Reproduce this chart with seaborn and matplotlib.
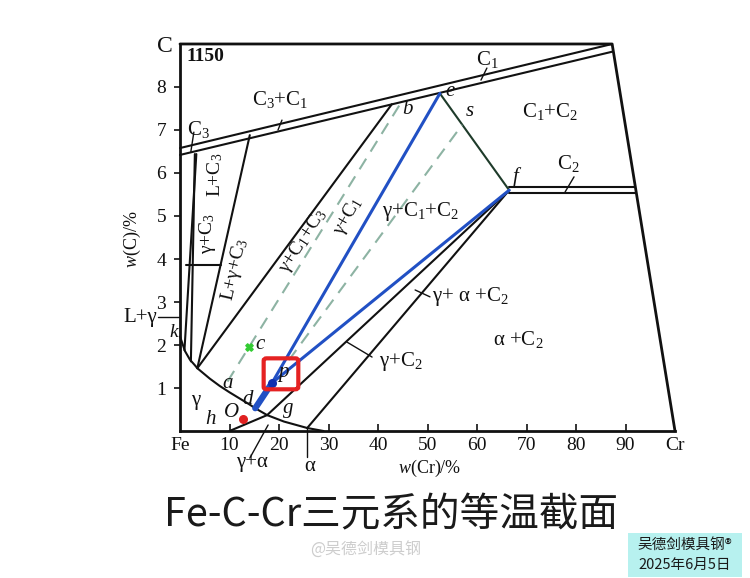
import matplotlib
matplotlib.use('Agg')
import matplotlib.pyplot as plt
import seaborn as sns
from matplotlib.patches import FancyBboxPatch, Rectangle

sns.set_theme(style='white')
plt.rcParams['font.family'] = ['Liberation Serif', 'DejaVu Serif']
plt.rcParams['mathtext.fontset'] = 'custom'
plt.rcParams['mathtext.rm'] = 'Liberation Serif'
plt.rcParams['mathtext.it'] = 'Liberation Serif:italic'
plt.rcParams['mathtext.bf'] = 'Liberation Serif:bold'

# ---------------- data (w(Cr) %, w(C) %) ----------------
x_ticks = [0, 10, 20, 30, 40, 50, 60, 70, 80, 90, 100]
x_tick_labels = ['Fe', '10', '20', '30', '40', '50', '60', '70', '80', '90', 'Cr']
y_ticks = [1, 2, 3, 4, 5, 6, 7, 8]
y_tick_labels = ['1', '2', '3', '4', '5', '6', '7', '8']

frame_cr = [0, 87.3, 100]
frame_c = [9.0, 9.0, 0.0]

c1_upper_cr = [0, 87.3]
c1_upper_c = [6.58, 9.0]
c1_lower_cr = [0, 87.3]
c1_lower_c = [6.42, 8.82]

c2_upper_cr = [66.5, 92.0]
c2_upper_c = [5.67, 5.67]
c2_lower_cr = [66.5, 92.2]
c2_lower_c = [5.53, 5.53]

gamma_cr = [0, 1, 2, 3, 3.5, 6, 8, 10, 12, 14, 15.2, 17.6, 21, 25.7, 29]
gamma_c = [2.2, 1.86, 1.66, 1.53, 1.46, 1.22, 1.05, 0.9, 0.76, 0.62, 0.53, 0.37, 0.22, 0.07, 0.0]

line_a_cr = [3.3, 0.9]
line_a_c = [6.44, 1.88]
line_b_cr = [3.0, 2.2]
line_b_c = [6.44, 1.62]
line_l3_cr = [14.1, 3.5]
line_l3_c = [6.88, 1.46]
line_h39_cr = [1.3, 8.3]
line_h39_c = [3.86, 3.86]
line_jb_cr = [3.5, 42.8]
line_jb_c = [1.46, 7.6]

pt_e = (52.5, 7.85)
pt_f = (66.5, 5.6)
pt_p = (18.6, 1.12)
pt_d = (15.2, 0.53)
pt_g = (17.6, 0.37)
pt_alpha = (25.7, 0.07)

ga_line_cr = [10.0, 17.6]
ga_line_c = [0.0, 0.37]

dash1_cr = [9.6, 45.0]
dash1_c = [1.15, 7.7]
dash2_cr = [22.0, 57.0]
dash2_c = [1.65, 7.12]

pt_c = (13.9, 1.95)
pt_red = (12.7, 0.28)

# ---------------- figure ----------------
fig = plt.figure(figsize=(7.5, 5.78), dpi=100)
fig.patch.set_facecolor('white')
ax = fig.add_axes([0.24, 0.2543, 0.66, 0.6696])
ax.set_facecolor('white')
ax.set_xlim(0, 100)
ax.set_ylim(0, 9)

K = '#111111'
BLUE = '#2150c4'
DASH = '#8db3a3'
LW = 1.5


def seg(xs, ys, color=K, lw=LW, **kw):
    sns.lineplot(x=xs, y=ys, ax=ax, sort=False, estimator=None, color=color,
                 lw=lw, clip_on=False, **kw)


for s in ['top', 'right']:
    ax.spines[s].set_visible(False)
for s in ['left', 'bottom']:
    ax.spines[s].set_linewidth(2.0)
    ax.spines[s].set_color(K)

seg(frame_cr, frame_c, lw=2.0)
seg(c1_upper_cr, c1_upper_c)
seg(c1_lower_cr, c1_lower_c)
seg(c2_upper_cr, c2_upper_c)
seg(c2_lower_cr, c2_lower_c)
seg(gamma_cr, gamma_c)
seg(line_a_cr, line_a_c)
seg(line_b_cr, line_b_c)
seg(line_l3_cr, line_l3_c)
seg(line_h39_cr, line_h39_c)
seg(line_jb_cr, line_jb_c)
seg(ga_line_cr, ga_line_c)
seg([pt_g[0], pt_f[0]], [pt_g[1], pt_f[1]])
seg([pt_alpha[0], pt_f[0]], [pt_alpha[1], pt_f[1]])
seg([pt_e[0], pt_f[0]], [pt_e[1], pt_f[1]], color='#1e3b2a')

seg(dash1_cr, dash1_c, color=DASH, lw=1.5, linestyle=(0, (6, 4)))
seg(dash2_cr, dash2_c, color=DASH, lw=1.5, linestyle=(0, (6, 4)))

seg([pt_p[0], pt_e[0]], [pt_p[1], pt_e[1]], color=BLUE, lw=2.2)
seg([pt_p[0], pt_f[0]], [pt_p[1], pt_f[1]], color=BLUE, lw=2.2)
seg([pt_d[0], pt_p[0]], [pt_d[1], pt_p[1]], color=BLUE, lw=4.5)

ax.scatter([pt_p[0]], [pt_p[1]], s=30, color='#1030b0', zorder=5)
ax.scatter([pt_c[0]], [pt_c[1]], s=28, color='#33cc33', marker='X', zorder=5)
ax.scatter([pt_red[0]], [pt_red[1]], s=30, color='#e02020', zorder=5)

# red highlight box around p
ax.add_patch(FancyBboxPatch((16.9, 0.97), 7.0, 0.72,
                            boxstyle='round,pad=0,rounding_size=0.6',
                            fill=False, ec='#e52222', lw=3.0, zorder=6,
                            mutation_aspect=0.09))

# leaders
seg([2.8, 2.2], [6.95, 6.5], lw=1.0)
seg([20.6, 19.8], [7.23, 7.0], lw=1.0)
seg([62.0, 60.8], [8.44, 8.16], lw=1.0)
seg([79.6, 77.8], [5.91, 5.56], lw=1.0)
seg([-4.4, 0.0], [2.65, 2.65], lw=1.0)
seg([47.5, 50.5], [3.28, 3.12], lw=1.0)
seg([33.7, 38.8], [2.07, 1.72], lw=1.0)
seg([14.1, 17.8], [-0.63, 0.14], lw=1.0)
seg([pt_alpha[0], pt_alpha[0]], [pt_alpha[1], -0.6], lw=1.0)

# ticks
ax.set_xticks(x_ticks)
ax.set_xticklabels(x_tick_labels)
ax.set_yticks(y_ticks)
ax.set_yticklabels(y_tick_labels)
ax.tick_params(axis='x', direction='in', length=5, width=1.2, colors=K,
               labelsize=14, pad=4, bottom=True)
ax.tick_params(axis='y', direction='out', length=4, width=1.2, colors=K,
               labelsize=14, pad=6, left=True)
for t in [ax.xaxis.get_major_ticks()[0], ax.xaxis.get_major_ticks()[-1]]:
    t.tick1line.set_visible(False)

TS = 15
def lab(x, y, s, **kw):
    kw.setdefault('fontsize', TS)
    kw.setdefault('ha', 'center')
    kw.setdefault('va', 'center')
    ax.text(x, y, s, color=K, clip_on=False, **kw)

lab(-3.0, 8.93, 'C', fontsize=17)
lab(1.2, 8.7, '1150', ha='left', fontsize=14, fontweight='bold')
lab(3.8, 7.02, 'C$_3$')
lab(20.2, 7.72, 'C$_3$+C$_1$')
lab(62.0, 8.63, 'C$_1$')
lab(74.7, 7.42, 'C$_1$+C$_2$')
lab(78.4, 6.23, 'C$_2$')
lab(48.7, 5.1, 'γ+C$_1$+C$_2$')
lab(34.0, 5.0, 'γ+C$_1$', rotation=60, fontsize=14)
lab(24.9, 4.42, 'γ+C$_1$+C$_3$', rotation=57, fontsize=14)
lab(11.2, 3.75, 'L+γ+C$_3$', rotation=77, fontsize=14)
lab(5.6, 4.6, 'γ+C$_3$', rotation=90, fontsize=14)
lab(7.2, 5.95, 'L+C$_3$', rotation=90, fontsize=14)
lab(-4.6, 2.65, 'L+γ', ha='right')
lab(-1.3, 2.28, 'k', style='italic', fontsize=14)
lab(15.3, 2.02, 'c', ha='left', style='italic')
lab(9.6, 1.1, 'a', style='italic')
lab(3.2, 0.72, 'γ')
lab(13.7, 0.74, 'd', style='italic')
lab(10.5, 0.44, 'O', style='italic')
lab(6.1, 0.26, 'h', style='italic')
lab(21.8, 0.53, 'g', style='italic')
lab(20.9, 1.37, 'p', style='italic')
lab(54.6, 7.9, 'e', style='italic')
lab(46.0, 7.47, 'b', style='italic')
lab(58.6, 7.42, 's', style='italic')
lab(67.8, 5.9, 'f', style='italic')
lab(50.9, 3.12, 'γ+ α +C$_2$', ha='left')
lab(40.2, 1.62, 'γ+C$_2$', ha='left')
lab(68.3, 2.12, 'α +C$_2$')
lab(14.5, -0.74, 'γ+α')
lab(26.3, -0.82, 'α')
lab(50.5, -0.86, '$\\mathit{w}$(Cr)/%', fontsize=13)
lab(-9.6, 4.45, '$\\mathit{w}$(C)/%', rotation=90, fontsize=13)

# title and captions
CJK = ['Noto Sans CJK SC', 'DejaVu Sans']
fig.text(0.522, 0.108, 'Fe-C-Cr三元系的等温截面', ha='center', va='center',
         fontsize=28.5, family=CJK, color='#1a1a1a')
fig.text(0.487, 0.048, '@吴德剑模具钢', ha='center', va='center',
         fontsize=11.5, family=CJK, color='#cdcdcd')
fig.patches.append(Rectangle((0.8373, 0.0017), 0.152, 0.076, transform=fig.transFigure,
                             facecolor='#b7f1ef', edgecolor='none', zorder=0))
fig.text(0.913, 0.057, '吴德剑模具钢®', ha='center', va='center',
         fontsize=10.5, family=CJK, color='#1a1a1a')
fig.text(0.913, 0.0225, '2025年6月5日', ha='center', va='center',
         fontsize=10.5, family=CJK, color='#1a1a1a')

fig.savefig('out.png', dpi=100, facecolor='white')
